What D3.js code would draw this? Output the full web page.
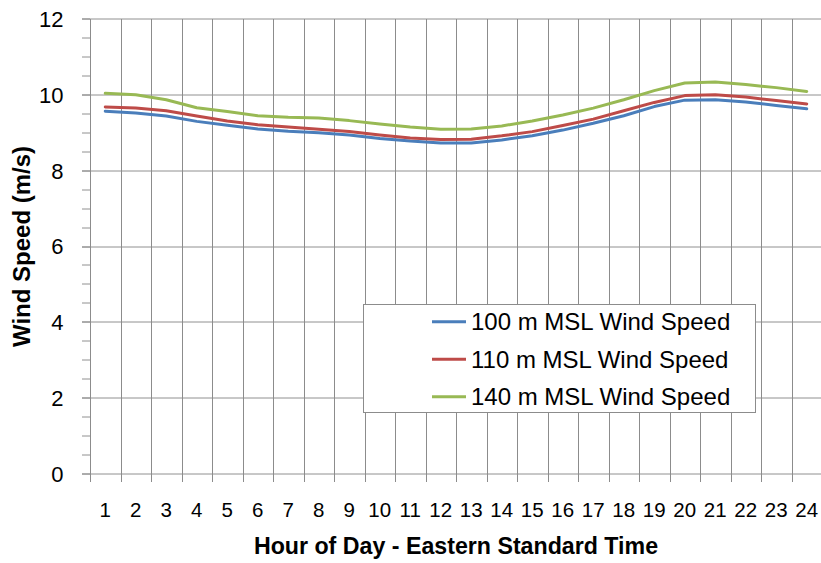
<!DOCTYPE html>
<html>
<head>
<meta charset="utf-8">
<script src="https://cdn.jsdelivr.net/npm/d3@7"></script>
<style>
  html, body { margin: 0; padding: 0; background: #fff; }
  svg { display: block; }
  text { font-family: "Liberation Sans", Arial, sans-serif; fill: #000; }
</style>
</head>
<body>
<svg id="chart" width="821" height="563"></svg>
<script>
// ---- data ----
const hours = ["1","2","3","4","5","6","7","8","9","10","11","12","13","14","15","16","17","18","19","20","21","22","23","24"];
const ws100 = [9.57,9.52,9.44,9.30,9.20,9.10,9.04,9.00,8.94,8.85,8.78,8.73,8.73,8.81,8.92,9.07,9.25,9.45,9.69,9.86,9.87,9.81,9.72,9.63];
const ws110 = [9.68,9.65,9.58,9.44,9.31,9.21,9.15,9.09,9.03,8.94,8.86,8.82,8.83,8.92,9.03,9.19,9.36,9.58,9.80,9.98,10.00,9.94,9.85,9.76];
const ws140 = [10.04,10.00,9.87,9.66,9.56,9.45,9.41,9.39,9.32,9.23,9.15,9.09,9.10,9.18,9.31,9.47,9.65,9.87,10.11,10.31,10.34,10.27,10.19,10.09];
const seriesNames = ["100 m MSL Wind Speed","110 m MSL Wind Speed","140 m MSL Wind Speed"];
const yTicks = [0,2,4,6,8,10,12];
const xTitle = "Hour of Day - Eastern Standard Time";
const yTitle = "Wind Speed (m/s)";

const series = [
  {name: seriesNames[0], values: ws100, color: "#4a7ebb"},
  {name: seriesNames[1], values: ws110, color: "#be4b48"},
  {name: seriesNames[2], values: ws140, color: "#98b954"}
];

// ---- layout ----
const mLeft = 90, mRight = 822, mTop = 19, mBottom = 474;
const svg = d3.select("#chart");

const x = d3.scaleBand().domain(hours).range([mLeft, mRight]).padding(0);
const y = d3.scaleLinear().domain([0, 12]).range([mBottom, mTop]);
const gridColor = "#8c8c8c";
const crisp = v => Math.round(v) + 0.5;

// horizontal gridlines (major) - slightly soft like the reference
svg.append("g").selectAll("line").data(yTicks).join("line")
  .attr("x1", mLeft - 8).attr("x2", mRight)
  .attr("y1", d => Math.round(y(d))).attr("y2", d => Math.round(y(d)))
  .attr("stroke", "#909090").attr("stroke-width", 1);

// minor ticks on y-axis
svg.append("g").selectAll("line").data(d3.range(0, 12.001, 0.5)).join("line")
  .attr("x1", mLeft - 8).attr("x2", mLeft)
  .attr("y1", d => Math.round(y(d))).attr("y2", d => Math.round(y(d)))
  .attr("stroke", "#909090").attr("stroke-width", 1);

// vertical gridlines at category boundaries (extend below as ticks)
const bounds = hours.map(h => x(h)).concat([x(hours[hours.length - 1]) + x.bandwidth()]);
svg.append("g").selectAll("line").data(bounds).join("line")
  .attr("x1", d => crisp(d)).attr("x2", d => crisp(d))
  .attr("y1", mTop).attr("y2", mBottom + 8)
  .attr("stroke", gridColor).attr("stroke-width", 1);

// y tick labels
svg.append("g").selectAll("text").data(yTicks).join("text")
  .attr("x", 63.5).attr("y", d => y(d))
  .attr("dy", "0.36em")
  .attr("text-anchor", "end")
  .style("font-size", "22px")
  .text(d => d);

// x tick labels
svg.append("g").selectAll("text").data(hours).join("text")
  .attr("x", d => x(d) + x.bandwidth() / 2).attr("y", 517)
  .attr("text-anchor", "middle")
  .style("font-size", "20.5px")
  .text(d => d);

// axis titles
svg.append("text")
  .attr("x", (mLeft + mRight) / 2).attr("y", 554)
  .attr("text-anchor", "middle")
  .style("font-size", "23.2px").style("font-weight", "bold")
  .text(xTitle);

svg.append("text")
  .attr("transform", `translate(30,${(mTop + mBottom) / 2}) rotate(-90)`)
  .attr("text-anchor", "middle")
  .style("font-size", "24px").style("font-weight", "bold")
  .text(yTitle);

// lines
const line = d3.line()
  .x((d, i) => x(hours[i]) + x.bandwidth() / 2)
  .y(d => y(d));

svg.append("g").selectAll("path").data(series).join("path")
  .attr("d", d => line(d.values))
  .attr("fill", "none")
  .attr("stroke", d => d.color)
  .attr("stroke-width", 3)
  .attr("stroke-linejoin", "round")
  .attr("stroke-linecap", "round");

// legend
const lg = svg.append("g");
lg.append("rect")
  .attr("x", 363.5).attr("y", 304.5).attr("width", 392).attr("height", 108)
  .attr("fill", "#fff").attr("stroke", "#8c8c8c").attr("stroke-width", 1);
const rowY = [321.7, 359.3, 396.7];
series.forEach((s, i) => {
  lg.append("line")
    .attr("x1", 432).attr("x2", 466)
    .attr("y1", rowY[i]).attr("y2", rowY[i])
    .attr("stroke", s.color).attr("stroke-width", 3);
  lg.append("text")
    .attr("x", 471).attr("y", rowY[i] + 8.6)
    .style("font-size", "24px")
    .text(s.name);
});
</script>
</body>
</html>
